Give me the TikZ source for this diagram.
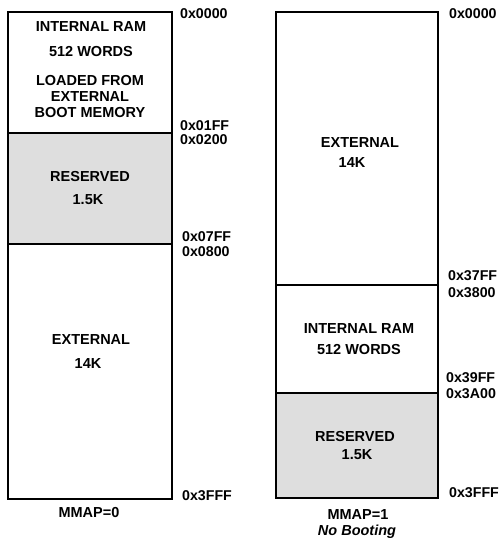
\documentclass[tikz,border=0pt]{standalone}
\usepackage{fontspec}
\setmainfont{Liberation Sans}
\begin{document}
\begin{tikzpicture}[x=1pt,y=-1pt,
  txt/.style={font=\fontsize{14.5}{16}\selectfont\bfseries, inner sep=0pt, align=center},
  addr/.style={font=\fontsize{14.2}{16}\selectfont\bfseries, inner sep=0pt, anchor=west},
  region/.style={draw=black, line width=1.4pt},
  resv/.style={region, fill=black!13}]
\useasboundingbox (0,0) rectangle (500,541);
% left map
\draw[region] (8,12) rectangle (172,133);
\draw[resv] (8,133) rectangle (172,244);
\draw[region] (8,244) rectangle (172,499);
\draw[line width=2pt] (8,12) rectangle (172,499);
\node[txt] (l1) at (91,27) {INTERNAL RAM};
\node[txt] (l2) at (91,52) {512 WORDS};
\node[txt] (l3) at (90,97) {LOADED FROM\\EXTERNAL\\BOOT MEMORY};
\node[txt] (l4) at (90,177) {RESERVED};
\node[txt] (l5) at (88,200) {1.5K};
\node[txt] (l6) at (91,340) {EXTERNAL};
\node[txt] (l7) at (88,364) {14K};
\node[txt] (l8) at (89,513) {MMAP=0};
\node[addr] (a1) at (180,14) {0x0000};
\node[addr] (a2) at (180,126) {0x01FF};
\node[addr] (a3) at (180,140) {0x0200};
\node[addr] (a4) at (182,237) {0x07FF};
\node[addr] (a5) at (182,252) {0x0800};
\node[addr] (a6) at (182,496) {0x3FFF};
% right map
\draw[region] (276,12) rectangle (438,285);
\draw[region] (276,285) rectangle (438,393);
\draw[resv] (276,393) rectangle (438,498);
\draw[line width=2pt] (276,12) rectangle (438,498);
\node[txt] (r1) at (360,143) {EXTERNAL};
\node[txt] (r2) at (352,163) {14K};
\node[txt] (r3) at (359,329) {INTERNAL RAM};
\node[txt] (r4) at (359,350) {512 WORDS};
\node[txt] (r5) at (355,437) {RESERVED};
\node[txt] (r6) at (357,455) {1.5K};
\node[txt] (r7) at (358,515) {MMAP=1};
\node[txt, font=\fontsize{14.5}{16}\selectfont\bfseries\itshape] (r8) at (357,532) {No Booting};
\node[addr] (b1) at (449,14) {0x0000};
\node[addr] (b2) at (448,276) {0x37FF};
\node[addr] (b3) at (448,293) {0x3800};
\node[addr] (b4) at (446,378) {0x39FF};
\node[addr] (b5) at (446,394) {0x3A00};
\node[addr] (b6) at (449,493) {0x3FFF};
\end{tikzpicture}
\end{document}
